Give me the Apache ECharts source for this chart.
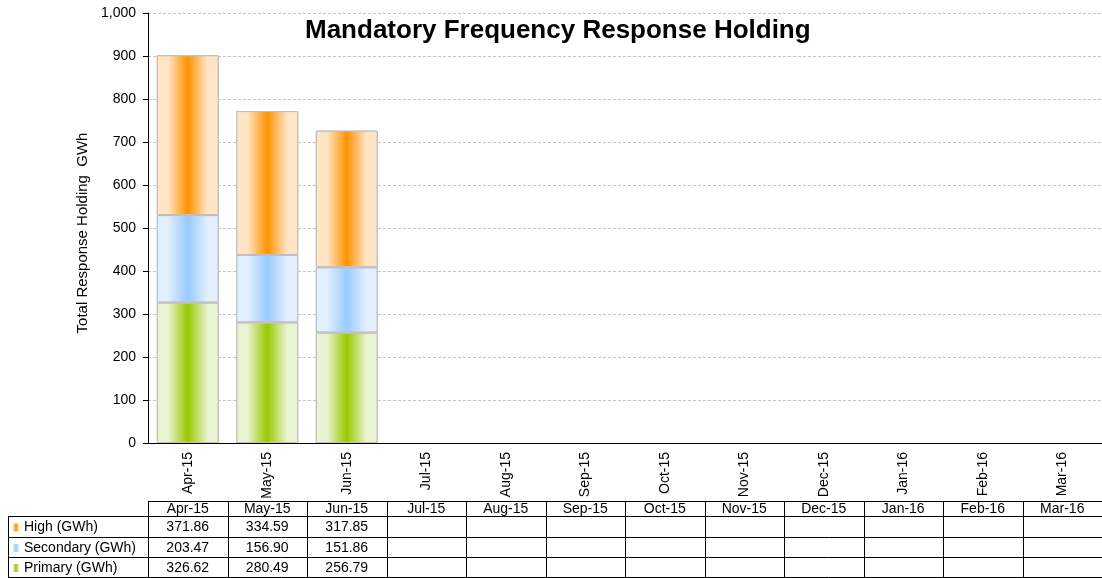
<!DOCTYPE html>
<html lang="en">
<head>
    <meta charset="UTF-8">
    <title>MFR Holding</title>
    <script src="https://cdn.jsdelivr.net/npm/echarts@6/dist/echarts.min.js"></script>
    <style>
        html, body { margin: 0; padding: 0; background: #fff; }
    </style>
</head>
<body>
<div id="chart-container" style="width: 1102px;height: 578px;"></div>
</body>
<script type="text/javascript">
    // months shown on the axis and in the table
    var months = ['Apr-15', 'May-15', 'Jun-15', 'Jul-15', 'Aug-15', 'Sep-15',
        'Oct-15', 'Nov-15', 'Dec-15', 'Jan-16', 'Feb-16', 'Mar-16'];
    // GWh values (only first three months reported)
    var high = [371.86, 334.59, 317.85];
    var secondary = [203.47, 156.90, 151.86];
    var primary = [326.62, 280.49, 256.79];

    var FONT = 'Liberation Sans, Arial, sans-serif';

    function bandFill(edge, mid, e1, e2) {
        return new echarts.graphic.LinearGradient(0, 0, 1, 0, [
            {offset: 0, color: edge},
            {offset: e1, color: edge},
            {offset: 0.5, color: mid},
            {offset: e2, color: edge},
            {offset: 1, color: edge}
        ]);
    }
    var cols = {
        high: ['#ffe5c6', '#ff9200'],
        secondary: ['#e2efff', '#99caff'],
        primary: ['#eaf3d2', '#99c800']
    };
    var fills = {}, keys = {};
    Object.keys(cols).forEach(function (k) {
        fills[k] = bandFill(cols[k][0], cols[k][1], 0.18, 0.82);
        keys[k] = bandFill(cols[k][0], cols[k][1], 0.0, 1.0);
    });

    var container = document.getElementById('chart-container');
    var myChart = echarts.init(container);

    function barSeries(name, data, fill) {
        return {
            name: name,
            type: 'bar',
            stack: 'total',
            barWidth: 62,
            data: data,
            itemStyle: {color: fill, borderColor: '#c0c0c0', borderWidth: 1},
            emphasis: {disabled: true}
        };
    }

    var option = {
        animation: false,
        title: {
            text: 'Mandatory Frequency Response Holding',
            left: 300,
            top: 13,
            textStyle: {fontFamily: FONT, fontSize: 26, fontWeight: 'bold', color: '#000'}
        },
        grid: {left: 148, right: 0, top: 13, bottom: 135},
        xAxis: {
            type: 'category',
            data: months,
            axisLine: {lineStyle: {color: '#000', width: 1}},
            axisTick: {length: 5, lineStyle: {color: '#000'}},
            axisLabel: {rotate: 90, margin: 9, fontFamily: FONT, fontSize: 14, color: '#000'}
        },
        yAxis: {
            type: 'value',
            min: 0,
            max: 1000,
            interval: 100,
            name: 'Total Response Holding  GWh',
            nameLocation: 'middle',
            nameGap: 42,
            nameTextStyle: {fontFamily: FONT, fontSize: 15, color: '#000', padding: [0, 10, 0, 0]},
            axisLine: {show: true, lineStyle: {color: '#000'}},
            axisTick: {show: true, length: 5, lineStyle: {color: '#000'}},
            axisLabel: {
                margin: 12, fontFamily: FONT, fontSize: 14, color: '#000',
                formatter: function (v) { return v.toLocaleString('en-US'); }
            },
            splitLine: {lineStyle: {type: [3, 2], color: '#c4c4c4'}}
        },
        series: [
            barSeries('Primary (GWh)', primary, fills.primary),
            barSeries('Secondary (GWh)', secondary, fills.secondary),
            barSeries('High (GWh)', high, fills.high)
        ]
    };
    myChart.setOption(option);

    // data table under the axis, columns follow the category bands
    var c0 = myChart.convertToPixel({xAxisIndex: 0}, months[0]);
    var c1 = myChart.convertToPixel({xAxisIndex: 0}, months[1]);
    var step = c1 - c0;
    var x0 = c0 - step / 2;
    var xEnd = x0 + step * months.length;
    var rowTops = [501, 516, 537, 557, 577];
    var labelLeft = 8;
    var rows = [
        {name: 'High (GWh)', data: high, key: keys.high},
        {name: 'Secondary (GWh)', data: secondary, key: keys.secondary},
        {name: 'Primary (GWh)', data: primary, key: keys.primary}
    ];

    var els = [];
    var line = function (x1, y1, x2, y2) {
        els.push({type: 'line', silent: true, shape: {x1: x1, y1: y1, x2: x2, y2: y2},
            style: {stroke: '#000', lineWidth: 1}});
    };
    var txt = function (x, y, s, align) {
        els.push({type: 'text', silent: true, x: x, y: y,
            style: {text: s, fontFamily: FONT, fontSize: 14, fill: '#000',
                align: align, verticalAlign: 'middle'}});
    };
    line(x0, rowTops[0] + 0.5, xEnd, rowTops[0] + 0.5);
    for (var r = 1; r < rowTops.length; r++) {
        line(labelLeft, rowTops[r] + 0.5, xEnd, rowTops[r] + 0.5);
    }
    line(labelLeft + 0.5, rowTops[1], labelLeft + 0.5, rowTops[4]);
    for (var i = 0; i <= months.length; i++) {
        var bx = Math.round(x0 + step * i) + 0.5;
        line(bx, rowTops[0], bx, rowTops[4]);
    }
    for (i = 0; i < months.length; i++) {
        txt(x0 + step * (i + 0.5), (rowTops[0] + rowTops[1]) / 2 + 1, months[i], 'center');
    }
    rows.forEach(function (row, k) {
        var midY = (rowTops[k + 1] + rowTops[k + 2]) / 2 + 1;
        els.push({type: 'rect', silent: true, shape: {x: 13, y: midY - 4, width: 6, height: 8},
            style: {fill: row.key}});
        txt(24, midY, row.name, 'left');
        row.data.forEach(function (v, j) {
            txt(x0 + step * (j + 0.5), midY, v.toFixed(2), 'center');
        });
    });
    myChart.setOption({graphic: {elements: els}});
</script>
</html>
